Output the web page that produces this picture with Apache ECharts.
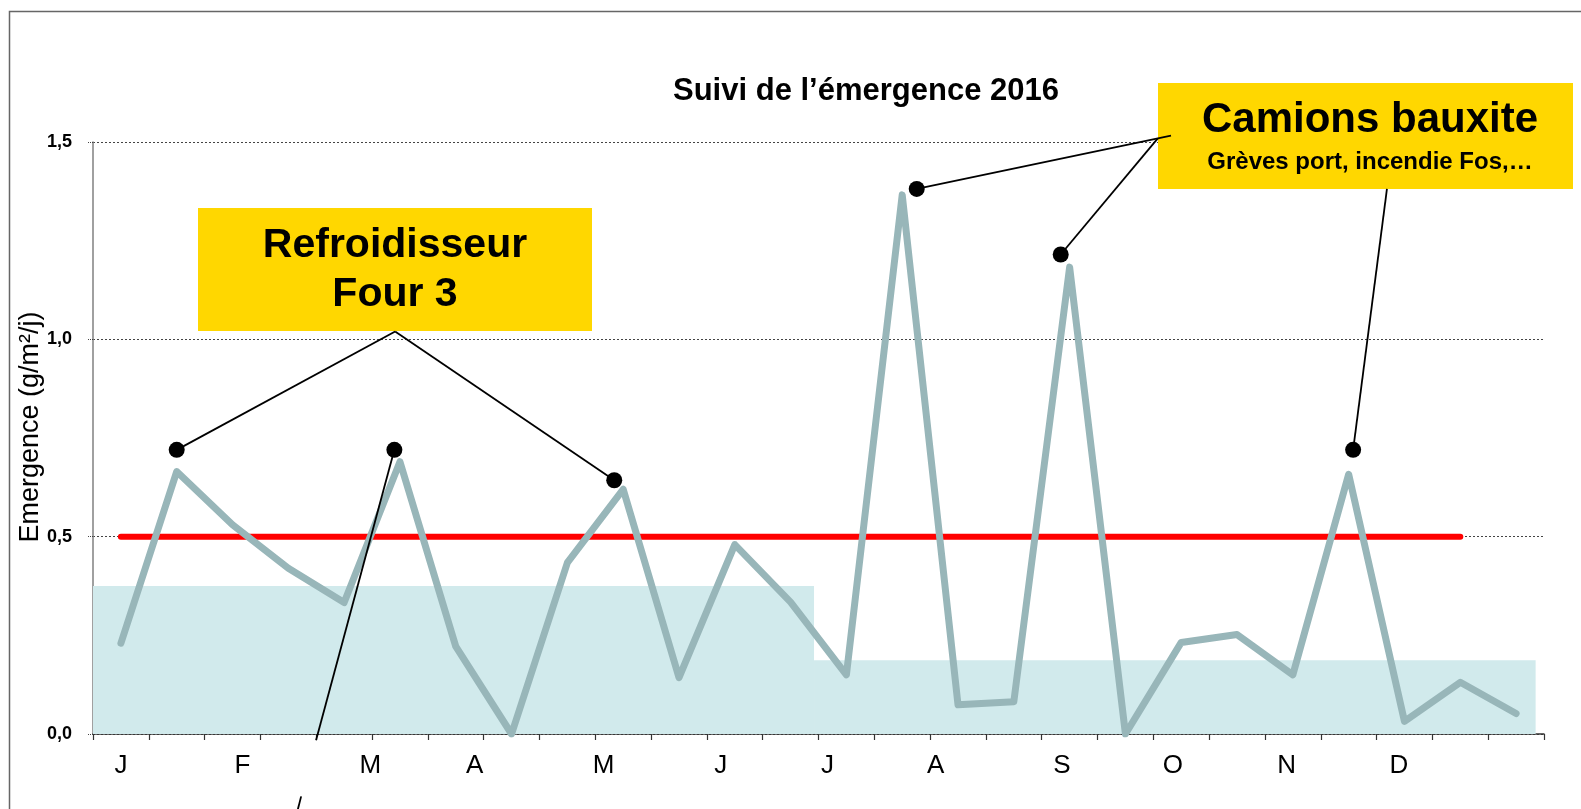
<!DOCTYPE html>
<html>
<head>
<meta charset="utf-8">
<script src="https://cdn.jsdelivr.net/npm/echarts@6/dist/echarts.min.js"></script>
<style>
  html, body { margin: 0; padding: 0; background: #fff; }
  #chart { width: 1581px; height: 809px; }
</style>
</head>
<body>
<div id="chart"></div>
<script>
// emergence values, one point every two weeks (26 points)
const emergence = [0.23, 0.665, 0.53, 0.42, 0.333, 0.69, 0.222, 0.0, 0.434, 0.62,
  0.143, 0.48, 0.334, 0.15, 1.366, 0.074, 0.082, 1.183, 0.0, 0.232,
  0.252, 0.15, 0.658, 0.032, 0.131, 0.052];

// month labels and their position on the point index scale
const monthLabels = ['J', 'F', 'M', 'A', 'M', 'J', 'J', 'A', 'S', 'O', 'N', 'D'];
const monthPos = [0, 2.18, 4.47, 6.34, 8.65, 10.75, 12.66, 14.6, 16.86, 18.85, 20.89, 22.9];

// threshold line
const seuil = 0.5;
const seuilFrom = 0;
const seuilTo = 24;

// background bands (mean levels)
const bandFrom = [-0.5, 12.42];
const bandTo = [12.42, 25.35];
const bandLevel = [0.375, 0.187];

// annotation dots
const dotX = [1.0, 4.9, 8.84, 14.26, 16.84, 22.08];
const dotY = [0.72, 0.72, 0.643, 1.381, 1.215, 0.72];

// leader lines [x1, y1, x2, y2]
const leaders = [
  [4.914, 1.02, 1.0, 0.72],
  [4.914, 1.02, 8.84, 0.643],
  [4.9, 0.72, 3.497, -0.016],
  [3.23, -0.158, 3.154, -0.2],
  [18.816, 1.516, 14.26, 1.381],
  [18.58, 1.509, 16.84, 1.215],
  [22.686, 1.381, 22.08, 0.72]
];

const FONT = '"Liberation Sans", Arial, sans-serif';

const tickValues = [];
for (let i = 0; i <= emergence.length; i++) tickValues.push(i - 0.5);

const chart = echarts.init(document.getElementById('chart'));

chart.setOption({
  animation: false,
  title: {
    text: 'Suivi de l’émergence 2016',
    left: 668,
    top: 71,
    textStyle: { fontFamily: FONT, fontSize: 31, fontWeight: 'bold', color: '#000' }
  },
  grid: {
    left: 93,
    right: 37,
    top: 142,
    bottom: 75,
    containLabel: false,
    outerBoundsMode: 'none'
  },
  xAxis: {
    type: 'value',
    min: -0.5,
    max: 25.5,
    splitLine: { show: false },
    axisLine: { lineStyle: { color: '#333', width: 1.5 } },
    axisTick: {
      customValues: tickValues,
      length: 6,
      lineStyle: { color: '#333', width: 1.2 }
    },
    axisLabel: {
      customValues: monthPos,
      margin: 19,
      fontFamily: FONT,
      fontSize: 26,
      color: '#000',
      formatter: (v) => {
        const i = monthPos.findIndex(p => Math.abs(p - v) < 1e-6);
        return i >= 0 ? monthLabels[i] : '';
      }
    }
  },
  yAxis: {
    type: 'value',
    min: 0,
    max: 1.5,
    interval: 0.5,
    name: 'Emergence (g/m²/j)',
    nameLocation: 'middle',
    nameRotate: 90,
    nameGap: 49,
    nameMoveOverlap: false,
    nameTextStyle: {
      fontFamily: FONT,
      fontSize: 27,
      color: '#000',
      padding: [0, 0, 0, 22]
    },
    axisLine: { show: true, onZero: false, lineStyle: { color: '#808080', width: 1.5 } },
    axisTick: { show: true, length: 6, lineStyle: { color: '#444', type: 'dotted', width: 1 } },
    splitLine: { lineStyle: { color: '#444', type: [2, 2], width: 1 } },
    axisLabel: {
      margin: 21,
      fontFamily: FONT,
      fontSize: 18,
      fontWeight: 'bold',
      color: '#000',
      formatter: (v) => v.toFixed(1).replace('.', ',')
    }
  },
  graphic: [
    {
      type: 'rect',
      z: -1,
      shape: { x: 9.5, y: 11.5, width: 1600, height: 900 },
      style: { fill: null, stroke: '#666', lineWidth: 1.5 }
    },
    {
      type: 'rect',
      z: 1,
      shape: { x: 198, y: 208, width: 394, height: 123 },
      style: { fill: '#FFD700' }
    },
    {
      type: 'text',
      z: 1,
      style: {
        text: 'Refroidisseur', x: 395, y: 245.5, align: 'center', verticalAlign: 'middle',
        fontFamily: FONT, fontSize: 41, fontWeight: 'bold', fill: '#000'
      }
    },
    {
      type: 'text',
      z: 1,
      style: {
        text: 'Four 3', x: 395, y: 295, align: 'center', verticalAlign: 'middle',
        fontFamily: FONT, fontSize: 41, fontWeight: 'bold', fill: '#000'
      }
    },
    {
      type: 'rect',
      z: 1,
      shape: { x: 1158, y: 83, width: 415, height: 106 },
      style: { fill: '#FFD700' }
    },
    {
      type: 'text',
      z: 1,
      style: {
        text: 'Camions bauxite', x: 1370, y: 120, align: 'center', verticalAlign: 'middle',
        fontFamily: FONT, fontSize: 42, fontWeight: 'bold', fill: '#000'
      }
    },
    {
      type: 'text',
      z: 1,
      style: {
        text: 'Grèves port, incendie Fos,…', x: 1370, y: 162.5, align: 'center', verticalAlign: 'middle',
        fontFamily: FONT, fontSize: 24, fontWeight: 'bold', fill: '#000'
      }
    }
  ],
  series: [
    {
      name: 'bands',
      type: 'line',
      data: [],
      silent: true,
      z: 1,
      markArea: {
        silent: true,
        itemStyle: { color: '#D1EAEC' },
        data: bandFrom.map((f, i) => [
          { coord: [f, 0] },
          { coord: [bandTo[i], bandLevel[i]] }
        ])
      }
    },
    {
      name: 'Emergence',
      type: 'line',
      data: emergence.map((v, i) => [i, v]),
      symbol: 'none',
      z: 3,
      lineStyle: { color: '#98B6B9', width: 7, join: 'round', cap: 'round' }
    },
    {
      name: 'Seuil',
      type: 'line',
      data: [[seuilFrom, seuil], [seuilTo, seuil]],
      symbol: 'none',
      z: 2,
      lineStyle: { color: '#FF0000', width: 6, cap: 'round' }
    },
    {
      name: 'leaders',
      type: 'lines',
      coordinateSystem: 'cartesian2d',
      clip: false,
      silent: true,
      z: 4,
      lineStyle: { color: '#000', width: 1.8, opacity: 1, curveness: 0 },
      data: leaders.map(l => ({ coords: [[l[0], l[1]], [l[2], l[3]]] }))
    },
    {
      name: 'dots',
      type: 'scatter',
      data: dotX.map((x, i) => [x, dotY[i]]),
      symbol: 'circle',
      symbolSize: 16,
      silent: true,
      z: 5,
      itemStyle: { color: '#000', opacity: 1 }
    }
  ]
});
</script>
</body>
</html>
